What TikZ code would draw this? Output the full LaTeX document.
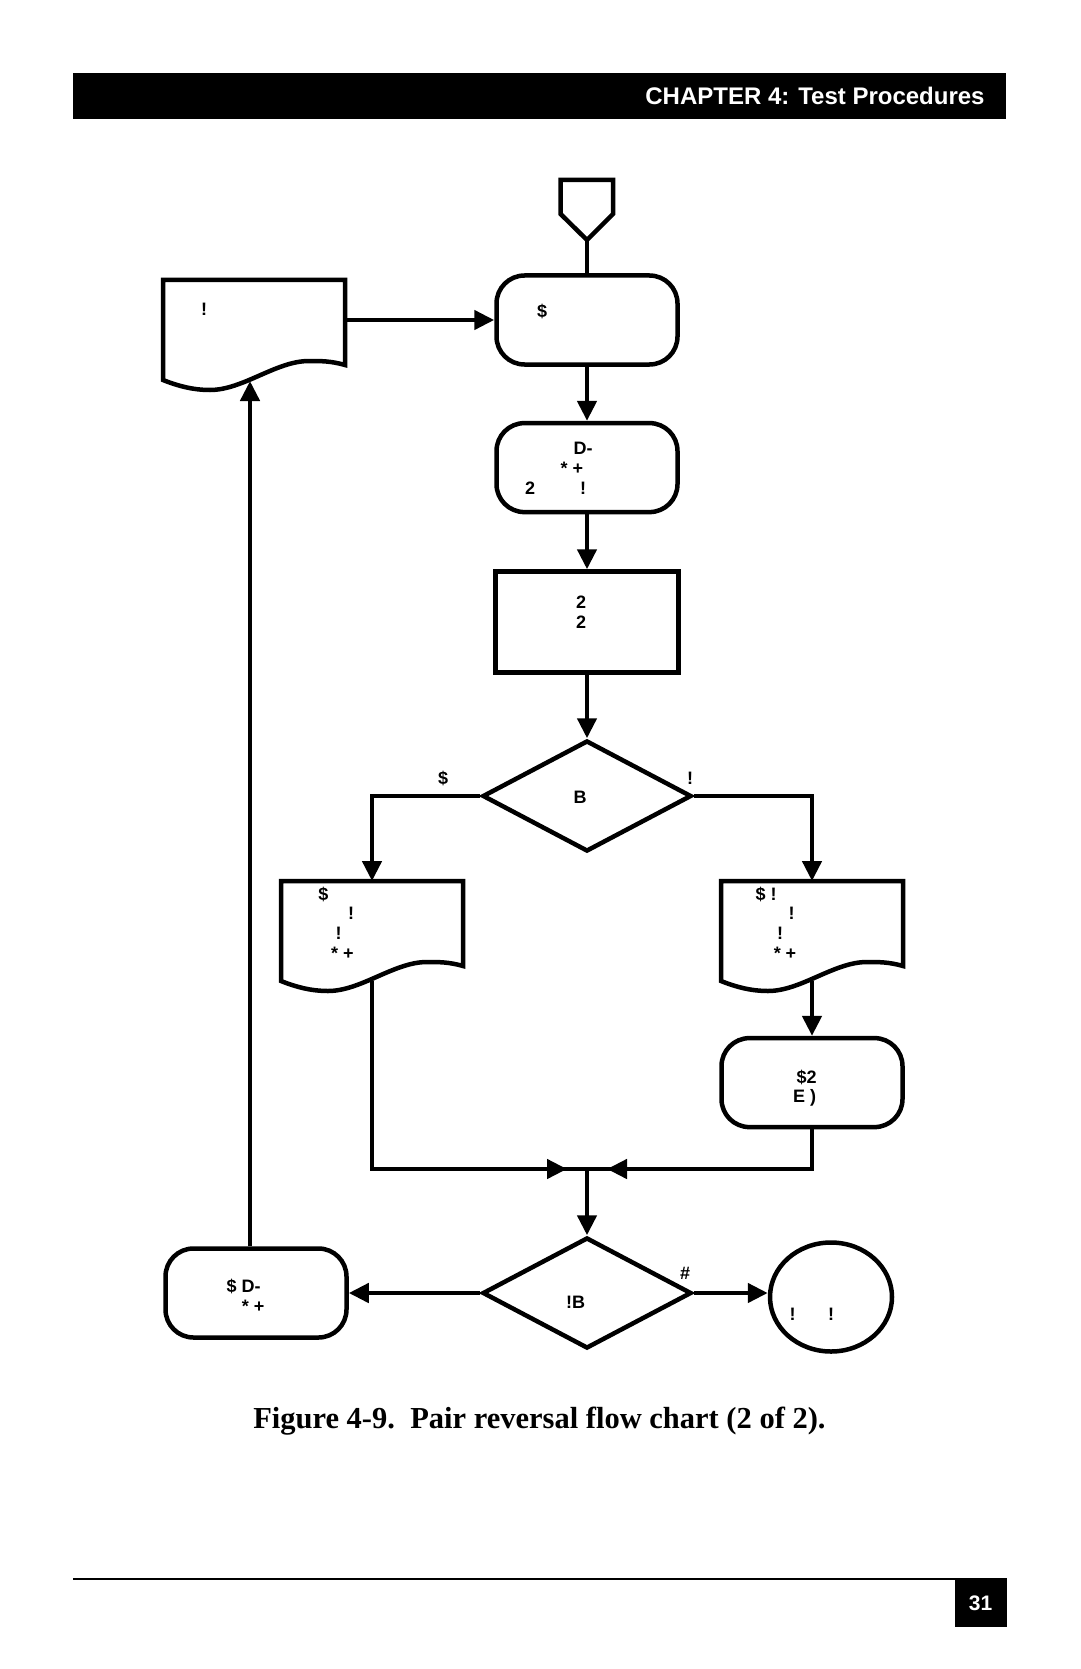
\documentclass[tikz,border=0pt]{standalone}
\usepackage{fontspec}
\setmainfont{Liberation Sans}
\newfontfamily\capfont{Liberation Serif}
\usetikzlibrary{arrows.meta,shapes.geometric,calc}

\tikzset{
  ln/.style={line width=4.5pt},
  arr/.style={ln,-{Triangle[length=20pt,width=19pt]}},
  rbox/.style={draw,ln,rounded corners=28pt,minimum width=181pt,minimum height=89pt,inner sep=0pt},
  sbox/.style={draw,ln,minimum width=183pt,minimum height=101pt,inner sep=0pt},
  dec/.style={draw,ln,diamond,minimum width=209pt,minimum height=111pt,inner sep=0pt},
  doc/.style={minimum width=182pt,minimum height=100pt,inner sep=0pt,outer sep=0pt,anchor=north west},
  lbl/.style={font=\bfseries\fontsize{18pt}{20pt}\selectfont,inner sep=0pt,text height=13pt,text depth=0pt}
}

% document symbol with a wavy bottom, drawn on the anchors of a plain node
\newcommand{\docshape}[1]{%
  \draw[ln] (#1.south west) -- (#1.north west) -- (#1.north east) -- ($(#1.south east)+(0,-15)$)
    .. controls ($(#1.south west)+(168,-19)$) and ($(#1.south west)+(158,-19)$) .. ($(#1.south west)+(146,-19)$)
    .. controls ($(#1.south west)+(113,-19)$) and ($(#1.south west)+(80,10)$) .. ($(#1.south west)+(47,10)$)
    .. controls ($(#1.south west)+(30,10)$) and ($(#1.south west)+(15,6)$) .. (#1.south west) -- cycle;}

\begin{document}
\begin{tikzpicture}[x=1pt,y=-1pt]
\path[use as bounding box,fill=white] (0,0) rectangle (1080,1669);

% page header
\node[fill=black,minimum width=933pt,minimum height=46pt,anchor=north west,inner sep=0pt,outer sep=0pt] (hdr) at (73.4,73.4) {};
\node[anchor=east,text=white,font=\bfseries\fontsize{24pt}{28pt}\selectfont,inner sep=0pt,text height=17pt,text depth=0pt]
  (hdrtxt) at ([xshift=-21.6pt]hdr.east) {CHAPTER 4: Test Procedures};

% off-page connector
\coordinate (st) at (587,240);
\draw[ln] (560.6,180) -- (613,180) -- (613,214) -- (st) -- (560.6,214) -- cycle;

% shapes
\node[rbox] (b1) at (587,320) {};
\node[rbox] (b2) at (587,467.6) {};
\node[sbox] (b3) at (587,622) {};
\node[dec] (q1) at (587,796) {};
\node[rbox] (b4) at (812,1082.6) {};
\node[dec] (q2) at (587,1293) {};
\node[rbox] (b5) at (256,1293) {};
\node[draw,ln,ellipse,minimum width=122pt,minimum height=109pt,inner sep=0pt] (c1) at (831,1297) {};

\node[doc] (d1) at (163,280) {};
\node[doc] (d2) at (281,881) {};
\node[doc] (d3) at (721,881) {};
\docshape{d1}
\docshape{d2}
\docshape{d3}

\coordinate (jn) at (587,1169);
\coordinate (d1in) at (250,381);

% texts
\node[lbl] (t1) at (204,309) {!};
\node[lbl] (t2) at (542,311) {\$};
\node[lbl] (t3) at (583,448) {D-};
\node[lbl] (t4) at (572,468) {* +};
\node[lbl] (t5) at (530,487.5) {2};
\node[lbl] (t6) at (583,487.5) {!};
\node[lbl] (t7) at (581,602) {2};
\node[lbl] (t8) at (581,622) {2};
\node[lbl] (t9) at (580,797) {B};
\node[lbl] (t10) at (443,778) {\$};
\node[lbl] (t11) at (690,778) {!};
\node[lbl] (t12) at (323.5,894) {\$};
\node[lbl] (t13) at (351,913) {!};
\node[lbl] (t14) at (338.5,933) {!};
\node[lbl] (t15) at (342.5,953) {* +};
\node[lbl] (t16) at (766,894) {\$ !};
\node[lbl] (t17) at (791.5,913) {!};
\node[lbl] (t18) at (780,933) {!};
\node[lbl] (t19) at (785,953) {* +};
\node[lbl] (t20) at (806.5,1077) {\$2};
\node[lbl] (t21) at (804.5,1096) {E )};
\node[lbl] (t22) at (575.6,1302) {!B};
\node[lbl] (t23) at (685,1272.5) {\#};
\node[lbl] (t24) at (243.7,1286.4) {\$ D-};
\node[lbl] (t25) at (253.2,1305.5) {* +};
\node[lbl] (t26) at (792.7,1314) {!};
\node[lbl] (t27) at (831,1314) {!};

% connectors
\draw[ln] (st) -- (b1.north);
\draw[arr] (b1.west -| d1.east) -- (b1.west);
\draw[arr] (b1) -- (b2);
\draw[arr] (b2) -- (b3);
\draw[arr] (b3) -- (q1);
\draw[arr] (q1.west) -| (d2.north);
\draw[arr] (q1.east) -| (d3.north);
\draw[arr] (d3.south) -- (b4.north);
\draw[ln] (d2.south) |- (jn) -| (b4.south);
\draw[arr] (d2.south) |- ([xshift=-20pt]jn);
\draw[arr] (b4.south) |- ([xshift=20pt]jn);
\draw[arr] (jn) -- (q2.north);
\draw[arr] (q2.west) -- (q2.west -| b5.east);
\draw[arr] (q2.east) -- (q2.east -| c1.west);
\draw[arr] (b5.north -| d1in) -- (d1in);

% caption
\node[font=\capfont\bfseries\fontsize{30.5pt}{34pt}\selectfont,inner sep=0pt,text height=20pt,text depth=0pt]
  (cap) at (539.4,1418) {Figure 4-9.\ \ Pair reversal flow chart (2 of 2).};

% page footer
\coordinate (fl) at (73.4,1579);
\coordinate (fr) at (1006.6,1579);
\draw[line width=2pt] (fl) -- (fr);
\node[fill=black,anchor=north east,minimum width=52pt,minimum height=48pt,inner sep=0pt,outer sep=0pt,
  text=white,font=\bfseries\fontsize{21pt}{24pt}\selectfont,text height=15pt,text depth=0pt] (pg) at (fr) {31};
\end{tikzpicture}
\end{document}
